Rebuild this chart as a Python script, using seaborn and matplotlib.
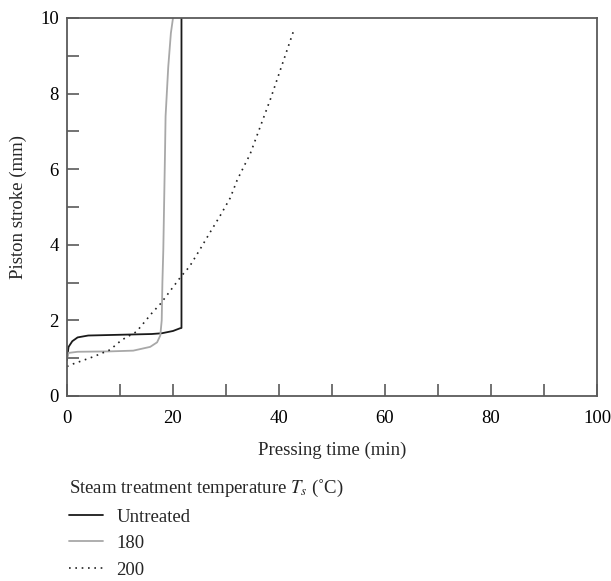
import matplotlib
matplotlib.use("Agg")
import matplotlib.pyplot as plt
import seaborn as sns
import pandas as pd
from matplotlib.ticker import MultipleLocator

# Data
untreated_t = [0.0, 0.0, 0.3, 1.0, 2.0, 4.0, 10.0, 16.0, 17.9, 20.0, 21.3, 21.6, 21.6]
untreated_s = [0.95, 1.0, 1.3, 1.45, 1.55, 1.6, 1.62, 1.64, 1.66, 1.72, 1.79, 1.8, 10.5]

t180_t = [0.0, 0.3, 2.0, 8.0, 12.5, 15.7, 17.0, 17.6, 17.87, 18.0, 18.17, 18.5, 18.6, 19.1, 19.6, 20.0]
t180_s = [1.0, 1.14, 1.17, 1.18, 1.2, 1.3, 1.42, 1.6, 2.0, 3.0, 3.86, 6.5, 7.4, 8.7, 9.6, 10.0]

t200_t = [0.0, 0.57, 5.0, 8.1, 10.3, 13.1, 16.0, 17.7, 19.2, 21.5, 23.1, 25.1, 27.0, 28.9, 30.8, 32.1, 33.9, 34.5, 38.4, 42.8]
t200_s = [0.78, 0.82, 1.04, 1.22, 1.48, 1.7, 2.19, 2.45, 2.73, 3.16, 3.42, 3.88, 4.33, 4.77, 5.24, 5.71, 6.22, 6.38, 7.86, 9.68]

series_labels = ["Untreated", "180", "200"]
x_label = "Pressing time (min)"
y_label = "Piston stroke (mm)"
legend_title = r"Steam treatment temperature $T_s$ (˚C)"

sns.set_theme(style="white")
plt.rcParams["font.family"] = ["Liberation Serif", "DejaVu Serif"]
plt.rcParams["mathtext.fontset"] = "stix"

FS = 13.5
fig = plt.figure(figsize=(6.11, 5.81), dpi=100)
ax = fig.add_axes([67 / 611, 185 / 581, 530 / 611, 378 / 581])

spine_col = "#5a5a5a"
styles = [
    dict(color="#1a1a1a", linestyle="-", linewidth=1.3),
    dict(color="#a8a8a8", linestyle="-", linewidth=1.3),
    dict(color="#222222", linestyle=(0, (1, 2.8)), linewidth=1.2),
]
data = [(untreated_t, untreated_s), (t180_t, t180_s), (t200_t, t200_s)]
for (tx, sy), lab, st in zip(data, series_labels, styles):
    df = pd.DataFrame({"t": tx, "s": sy})
    sns.lineplot(data=df, x="t", y="s", ax=ax, sort=False, estimator=None,
                 label=lab, **st)

ax.set_xlim(0, 100)
ax.set_ylim(0, 10)
ax.xaxis.set_major_locator(MultipleLocator(20))
ax.xaxis.set_minor_locator(MultipleLocator(10))
ax.yaxis.set_major_locator(MultipleLocator(2))
ax.yaxis.set_minor_locator(MultipleLocator(1))
ax.tick_params(which="both", direction="in", length=8.5, width=1.2,
               color=spine_col, labelsize=FS, labelcolor="black",
               bottom=True, left=True, top=False, right=False)
ax.tick_params(axis="x", pad=10)
ax.tick_params(axis="y", pad=6)
for sp in ax.spines.values():
    sp.set_color(spine_col)
    sp.set_linewidth(1.3)
    sp.set_visible(True)

ax.set_xlabel(x_label, fontsize=FS, labelpad=11)
ax.set_ylabel(y_label, fontsize=FS, labelpad=9)

handles, labels = ax.get_legend_handles_labels()
ax.get_legend().remove()
leg = fig.legend(handles, labels, title=legend_title, loc="upper left",
                 bbox_to_anchor=(0.092, 0.2), frameon=False,
                 fontsize=FS, title_fontsize=FS, alignment="left",
                 handlelength=1.8, handletextpad=0.7, labelspacing=0.5,
                 borderpad=0.2)

fig.savefig("out.png", dpi=100)
